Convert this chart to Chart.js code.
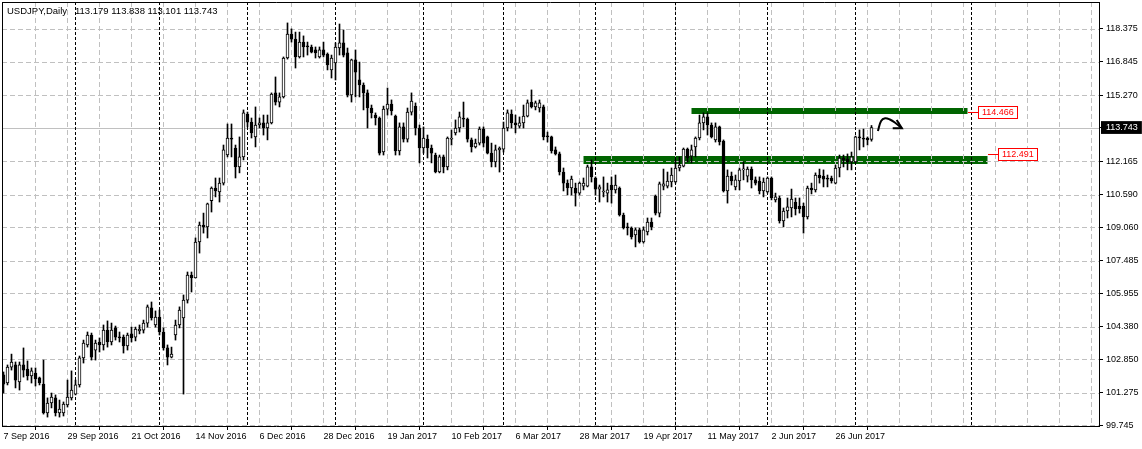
<!DOCTYPE html>
<html>
<head>
<meta charset="utf-8">
<title>USDJPY Daily</title>
<script src="https://cdn.jsdelivr.net/npm/chart.js@4/dist/chart.umd.min.js"></script>
<style>
  html, body { margin: 0; padding: 0; background: #fff; }
  #wrap { width: 1142px; height: 449px; }
</style>
</head>
<body>
<div id="wrap"><canvas id="chart" width="1142" height="449"></canvas></div>
<script>
const symbolTitle = "USDJPY,Daily";

// one date label every 16 daily bars, starting at bar 0 (7 Sep 2016)
const dateLabels = ["7 Sep 2016", "29 Sep 2016", "21 Oct 2016", "14 Nov 2016", "6 Dec 2016", "28 Dec 2016",
    "19 Jan 2017", "10 Feb 2017", "6 Mar 2017", "28 Mar 2017", "19 Apr 2017", "11 May 2017", "2 Jun 2017", "26 Jun 2017"];
const labelStep = 16;
const gridStep = 8;
// bar index of the first bar of each month (period separators)
const monthStarts = [18, 39, 61, 83, 105, 125, 148, 168, 191, 213, 242];

const priceTicks = [118.375, 116.845, 115.270, 112.165, 110.590, 109.060, 107.485, 105.955, 104.380, 102.850, 101.275, 99.745];

const opens = [
    102.11, 101.73, 102.48, 102.58, 101.78, 102.58, 102.39, 102.06, 102.20, 101.97,
    101.68, 100.32, 100.79, 101.03, 100.32, 100.32, 100.70, 101.03, 101.21, 101.64,
    102.91, 103.52, 103.99, 103.28, 103.66, 103.52, 104.22, 103.66, 104.32, 103.89,
    103.89, 103.47, 104.04, 103.89, 104.18, 104.22, 104.55, 105.26, 104.46, 104.83,
    104.13, 103.38, 102.95, 103.99, 104.46, 104.79, 105.63, 106.81, 106.67, 108.36,
    109.16, 109.07, 110.30, 110.90, 110.71, 111.13, 112.45, 113.25, 112.78, 111.89,
    112.36, 114.38, 114.00, 113.30, 113.86, 113.96, 113.72, 113.96, 115.37, 114.94,
    115.18, 117.01, 118.14, 117.90, 117.06, 117.76, 117.58, 117.53, 117.39, 117.06,
    117.39, 117.20, 116.45, 116.78, 117.48, 117.72, 117.25, 115.27, 116.92, 115.98,
    115.74, 115.37, 114.66, 114.33, 114.19, 112.59, 114.61, 114.85, 114.28, 112.64,
    113.77, 113.20, 114.47, 114.75, 113.72, 112.78, 113.20, 112.78, 112.45, 111.65,
    112.36, 111.89, 113.20, 113.49, 113.72, 114.19, 114.14, 113.16, 112.83, 113.01,
    113.67, 113.30, 112.54, 112.12, 112.69, 112.73, 113.72, 114.38, 113.96, 113.81,
    113.96, 114.28, 114.94, 114.71, 114.66, 114.71, 113.34, 113.30, 112.69, 112.50,
    111.65, 111.13, 110.90, 110.90, 110.66, 110.99, 110.99, 111.89, 111.37, 110.85,
    110.71, 110.66, 111.04, 110.81, 110.90, 109.63, 109.07, 109.02, 108.69, 108.93,
    108.36, 108.83, 109.30, 110.52, 109.72, 110.99, 110.99, 111.18, 111.18, 111.84,
    111.93, 112.73, 112.40, 112.83, 113.25, 113.96, 114.24, 113.86, 113.16, 113.77,
    113.11, 110.76, 111.46, 110.95, 111.23, 111.75, 111.46, 111.79, 111.28, 111.23,
    110.76, 110.71, 111.37, 110.34, 110.43, 109.35, 109.82, 109.96, 110.24, 110.05,
    110.05, 109.54, 110.90, 110.81, 111.51, 111.46, 111.37, 111.37, 111.13, 111.84,
    112.31, 112.26, 112.12, 112.12, 113.30, 113.25, 113.25, 113.179];

const highs = [
    102.25, 102.58, 103.09, 102.72, 102.72, 103.38, 102.77, 102.44, 102.44, 102.01,
    102.81, 101.03, 101.26, 101.17, 100.93, 100.84, 101.87, 102.30, 101.87, 103.00,
    103.75, 104.13, 104.08, 103.75, 103.85, 104.46, 104.65, 104.55, 104.41, 104.13,
    103.99, 104.08, 104.36, 104.36, 104.46, 104.69, 105.40, 105.54, 105.12, 105.16,
    104.32, 103.52, 103.42, 104.69, 105.31, 105.87, 106.95, 106.95, 108.55, 109.30,
    109.72, 110.19, 110.95, 111.37, 111.37, 112.92, 113.91, 113.91, 112.92, 113.30,
    114.57, 114.47, 114.19, 114.71, 114.19, 114.33, 114.33, 115.37, 116.12, 115.37,
    117.06, 118.66, 118.38, 118.23, 118.23, 118.05, 117.76, 117.62, 117.53, 117.53,
    117.76, 117.25, 117.15, 117.72, 118.61, 118.33, 117.48, 116.96, 117.39, 116.82,
    115.84, 115.51, 114.80, 114.43, 114.24, 114.75, 115.60, 115.04, 114.33, 113.96,
    113.96, 114.66, 115.37, 114.90, 113.86, 113.77, 113.39, 112.92, 112.54, 112.45,
    112.45, 113.30, 113.63, 114.10, 114.47, 114.94, 114.19, 113.25, 113.20, 113.77,
    113.77, 113.34, 113.01, 112.92, 112.83, 114.00, 114.57, 114.57, 114.33, 114.24,
    114.80, 115.04, 115.51, 114.99, 115.04, 114.80, 113.53, 113.34, 112.83, 112.59,
    111.84, 111.28, 111.46, 111.13, 111.18, 111.37, 111.98, 112.22, 111.42, 111.04,
    111.42, 111.13, 111.42, 111.51, 110.95, 109.72, 109.25, 109.07, 109.02, 109.02,
    109.07, 109.49, 109.49, 110.57, 111.18, 111.79, 111.65, 111.84, 112.22, 112.36,
    112.78, 112.78, 112.92, 113.30, 114.33, 114.43, 114.43, 113.96, 113.96, 113.81,
    113.16, 111.75, 111.65, 111.51, 111.84, 112.12, 111.89, 111.89, 111.42, 111.42,
    111.37, 111.42, 111.42, 110.66, 110.52, 109.96, 110.43, 110.85, 110.43, 110.43,
    110.19, 110.99, 111.13, 111.61, 111.79, 111.75, 111.51, 111.46, 111.98, 112.45,
    112.45, 112.50, 112.59, 113.34, 113.63, 113.67, 113.30, 113.838];

const lows = [
    101.26, 101.64, 102.34, 101.50, 101.40, 102.01, 101.87, 101.73, 101.59, 101.64,
    100.27, 100.13, 100.56, 100.18, 100.13, 100.18, 100.60, 100.93, 101.17, 101.54,
    102.67, 103.42, 102.81, 102.81, 103.19, 103.28, 103.42, 103.52, 103.75, 103.66,
    103.14, 103.28, 103.66, 103.71, 104.04, 104.08, 104.36, 104.69, 104.36, 103.99,
    103.28, 102.58, 102.91, 103.75, 104.32, 101.21, 105.49, 106.01, 106.67, 107.84,
    108.78, 108.55, 109.77, 110.48, 110.24, 111.04, 112.36, 112.36, 111.37, 111.61,
    112.22, 113.77, 113.25, 112.83, 113.72, 113.39, 113.16, 113.91, 114.80, 114.71,
    115.13, 116.96, 117.76, 116.54, 117.01, 117.06, 117.15, 117.25, 117.01, 117.01,
    117.06, 116.45, 116.07, 115.98, 117.15, 117.06, 115.18, 114.94, 115.18, 115.18,
    114.57, 113.72, 114.19, 113.86, 112.45, 112.45, 114.33, 114.33, 112.45, 112.45,
    113.06, 113.06, 114.33, 113.39, 112.08, 112.54, 112.31, 112.08, 111.61, 111.61,
    111.61, 111.75, 112.92, 113.39, 113.53, 113.77, 113.06, 112.59, 112.78, 112.92,
    112.83, 112.50, 111.89, 111.89, 111.65, 112.59, 113.58, 113.72, 113.49, 113.72,
    113.72, 114.24, 114.66, 114.57, 114.47, 113.16, 113.06, 112.54, 112.45, 111.51,
    110.76, 110.57, 110.57, 110.05, 110.57, 110.81, 110.95, 111.18, 110.57, 110.24,
    110.48, 110.24, 110.19, 110.66, 109.58, 108.97, 108.69, 108.50, 108.13, 108.31,
    108.31, 108.69, 108.93, 109.63, 109.54, 110.81, 110.90, 110.95, 111.13, 111.70,
    111.89, 112.12, 112.08, 112.36, 113.16, 113.63, 113.39, 113.25, 113.06, 112.92,
    110.71, 110.19, 111.04, 110.81, 110.81, 111.28, 111.18, 110.90, 111.04, 110.62,
    110.48, 110.66, 110.34, 110.24, 109.25, 109.07, 109.49, 109.54, 109.63, 109.72,
    108.78, 109.44, 110.62, 110.71, 111.13, 110.95, 110.95, 111.13, 111.09, 111.42,
    111.89, 111.75, 111.75, 112.08, 112.69, 112.83, 112.92, 113.101];

const closes = [
    101.68, 102.48, 102.72, 101.87, 102.58, 102.34, 102.06, 102.30, 101.92, 101.73,
    100.32, 100.79, 101.07, 100.32, 100.51, 100.74, 101.07, 101.40, 101.64, 102.91,
    103.61, 103.99, 102.95, 103.61, 103.52, 104.22, 103.66, 104.22, 103.89, 103.85,
    103.47, 103.99, 103.85, 104.27, 104.27, 104.55, 105.31, 104.79, 104.83, 104.13,
    103.38, 102.95, 103.09, 104.46, 105.16, 105.63, 106.81, 106.67, 108.36, 109.16,
    109.07, 110.15, 110.90, 110.76, 111.13, 112.69, 113.25, 113.20, 111.89, 112.36,
    114.43, 114.00, 113.49, 113.86, 113.96, 113.72, 113.96, 115.32, 114.94, 115.18,
    117.01, 118.14, 117.90, 117.06, 117.76, 117.53, 117.53, 117.29, 117.25, 117.39,
    117.15, 116.68, 117.01, 117.53, 117.72, 117.15, 115.27, 116.92, 116.35, 115.74,
    115.37, 114.66, 114.43, 114.19, 112.54, 114.61, 114.85, 114.52, 112.64, 113.77,
    113.20, 114.47, 114.99, 113.72, 112.78, 113.25, 112.78, 112.54, 111.65, 112.36,
    111.89, 113.25, 113.25, 113.72, 114.24, 114.14, 113.20, 112.83, 113.01, 113.67,
    113.01, 112.54, 112.12, 112.69, 112.78, 113.72, 114.43, 113.96, 113.86, 113.96,
    114.28, 114.90, 114.71, 114.90, 114.90, 113.30, 113.30, 112.64, 112.50, 111.65,
    111.13, 110.90, 111.32, 110.66, 111.13, 111.13, 111.89, 111.42, 110.85, 110.95,
    110.76, 110.81, 110.81, 111.04, 109.63, 109.02, 109.02, 108.60, 108.93, 108.36,
    108.93, 109.30, 109.07, 109.72, 111.09, 111.09, 111.23, 111.51, 111.84, 111.98,
    112.73, 112.31, 112.69, 113.25, 113.96, 114.24, 113.86, 113.30, 113.77, 113.06,
    110.76, 111.46, 111.23, 111.28, 111.75, 111.79, 111.79, 111.28, 111.13, 110.76,
    111.18, 111.37, 110.43, 110.48, 109.35, 109.82, 110.01, 110.38, 109.91, 109.91,
    109.54, 110.90, 110.81, 111.51, 111.37, 111.32, 111.32, 111.23, 111.84, 112.31,
    112.22, 112.12, 112.36, 113.30, 113.25, 113.20, 113.16, 113.743];

const lastPrice = closes[closes.length - 1];

// support / resistance zones drawn on the chart
const zoneCenters = [114.52, 112.216];
const zoneStarts = [172, 145];
const zoneEnds = [241, 246];
const levelPrices = [114.466, 112.491];

// hand drawn arrow
const arrowX = [218.6, 219.4, 220.4, 221.6, 222.9, 224.6];
const arrowY = [113.58, 114.05, 114.18, 114.12, 113.97, 113.71];
const arrowHeadX = [223.3, 224.6, 222.3];
const arrowHeadY = [114.10, 113.71, 113.71];

const FONT = '"Liberation Sans", Arial, sans-serif';
Chart.defaults.font.family = FONT;
Chart.defaults.font.size = 9;
Chart.defaults.color = "#000";

const wickData = opens.map((_, i) => ({ x: i, y: [lows[i], highs[i]] }));
const bodyData = opens.map((_, i) => ({ x: i, y: [opens[i], closes[i]] }));

const zoneSets = zoneCenters.map((p, k) => ({
    type: "line",
    label: "zone" + k,
    data: [{ x: zoneStarts[k], y: p }, { x: zoneEnds[k], y: p }],
    borderColor: "#006400",
    borderWidth: k === 0 ? 6 : 8,
    borderCapStyle: "butt",
    pointRadius: 0,
    order: 10
}));

// grid, separators and bid line: drawn after the zones, before the candles
const mtGrid = {
    id: "mtGrid",
    beforeDatasetDraw(chart, args) {
        if (chart.data.datasets[args.index].label !== "wicks") return;
        const { ctx, chartArea: a, scales: { x, y } } = chart;
        const line = (x1, y1, x2, y2) => { ctx.beginPath(); ctx.moveTo(x1, y1); ctx.lineTo(x2, y2); ctx.stroke(); };
        ctx.save();
        ctx.beginPath();
        ctx.rect(a.left, a.top, a.right - a.left, a.bottom - a.top);
        ctx.clip();
        ctx.lineWidth = 1;
        ctx.strokeStyle = "#c0c0c0";
        ctx.setLineDash([5, 3]);
        priceTicks.forEach(v => {
            const py = Math.round(y.getPixelForValue(v)) + 0.5;
            line(a.left, py, a.right, py);
        });
        for (let i = gridStep; x.getPixelForValue(i) < a.right; i += gridStep) {
            const px = x.getPixelForValue(i);
            line(px, a.top, px, a.bottom);
        }
        ctx.setLineDash([]);
        const by = Math.round(y.getPixelForValue(lastPrice)) + 0.5;
        line(a.left, by, a.right, by);
        ctx.strokeStyle = "#000";
        ctx.setLineDash([3, 2]);
        monthStarts.forEach(i => {
            const px = x.getPixelForValue(i);
            line(px, a.top, px, a.bottom);
        });
        ctx.restore();
        ctx.save();
        ctx.strokeStyle = "#000";
        ctx.lineWidth = 1;
        line(a.left + 0.5, a.bottom, a.left + 0.5, a.top + 0.5);
        line(a.left, a.top + 0.5, a.right, a.top + 0.5);
        ctx.restore();
    },
    afterDraw(chart) {
        const { ctx, scales: { x, y } } = chart;
        ctx.save();
        ctx.textBaseline = "middle";
        ctx.fillStyle = "#000";
        ctx.font = "9.5px " + FONT;
        ctx.fillText(symbolTitle, 7, 11);
        const n = closes.length - 1;
        const ohlc = [opens[n], highs[n], lows[n], closes[n]].map(v => v.toFixed(3)).join(" ");
        ctx.fillText(ohlc, 75, 11);

        ctx.font = "9px " + FONT;
        levelPrices.forEach((p, k) => {
            const py = Math.round(y.getPixelForValue(p)) + 0.5;
            const x0 = Math.round(x.getPixelForValue(zoneEnds[k]));
            ctx.strokeStyle = "#ff0000";
            ctx.lineWidth = 1;
            ctx.beginPath();
            ctx.moveTo(x0, py);
            ctx.lineTo(x0 + 10, py);
            ctx.stroke();
            const txt = p.toFixed(3);
            const bw = Math.round(ctx.measureText(txt).width + 7);
            const bx = x0 + 10.5;
            ctx.fillStyle = "#fff";
            ctx.fillRect(bx, py - 6, bw, 12);
            ctx.strokeRect(bx, py - 6, bw, 12);
            ctx.fillStyle = "#ff0000";
            ctx.fillText(txt, bx + 3.5, py + 0.5);
        });
        ctx.restore();
    }
};

new Chart(document.getElementById("chart").getContext("2d"), {
    type: "bar",
    data: {
        datasets: [
            ...zoneSets,
            {
                label: "wicks",
                data: wickData,
                backgroundColor: "#000",
                barThickness: 1,
                grouped: false,
                order: 4
            },
            {
                label: "bodies",
                data: bodyData,
                backgroundColor: c => closes[c.dataIndex] >= opens[c.dataIndex] ? "#fff" : "#000",
                borderColor: "#000",
                borderWidth: 1,
                borderSkipped: false,
                barThickness: 3,
                minBarLength: 1,
                grouped: false,
                order: 3
            },
            {
                type: "line",
                label: "arrow",
                data: arrowX.map((v, i) => ({ x: v, y: arrowY[i] })),
                borderColor: "#000",
                borderWidth: 2,
                tension: 0.4,
                pointRadius: 0,
                order: 1
            },
            {
                type: "line",
                label: "arrowHead",
                data: arrowHeadX.map((v, i) => ({ x: v, y: arrowHeadY[i] })),
                borderColor: "#000",
                borderWidth: 2,
                pointRadius: 0,
                order: 1
            }
        ]
    },
    options: {
        responsive: false,
        animation: false,
        devicePixelRatio: 1,
        events: [],
        layout: { padding: { left: 2, top: 2, right: 0, bottom: 0 } },
        plugins: { legend: { display: false }, tooltip: { enabled: false } },
        scales: {
            x: {
                type: "linear",
                offset: false,
                min: -0.375,
                max: 273.875,
                afterBuildTicks: s => { s.ticks = dateLabels.map((_, k) => ({ value: k * labelStep })); },
                afterFit: s => { s.height = 23; s.paddingLeft = 0; s.paddingRight = 0; },
                grid: { drawOnChartArea: false, tickLength: 4, tickColor: "#000" },
                border: { color: "#000" },
                ticks: {
                    autoSkip: false,
                    maxRotation: 0,
                    align: "start",
                    padding: 1,
                    color: "#000",
                    callback: v => dateLabels[Math.round(v / labelStep)]
                }
            },
            y: {
                position: "right",
                min: 99.710,
                max: 119.644,
                afterBuildTicks: s => {
                    s.ticks = priceTicks.concat([lastPrice]).map(v => ({ value: v }));
                },
                afterFit: s => { s.width = 43; s.paddingTop = 0; s.paddingBottom = 0; },
                grid: { drawOnChartArea: false, tickLength: 4, tickColor: "#000" },
                border: { color: "#000" },
                ticks: {
                    autoSkip: false,
                    padding: 3,
                    showLabelBackdrop: true,
                    backdropPadding: { top: 1, bottom: 1, left: 5, right: 4 },
                    backdropColor: c => c.tick.value === lastPrice ? "#000" : "rgba(0,0,0,0)",
                    color: c => c.tick.value === lastPrice ? "#fff" : "#000",
                    callback: v => v.toFixed(3)
                }
            }
        }
    },
    plugins: [mtGrid]
});
</script>
</body>
</html>
